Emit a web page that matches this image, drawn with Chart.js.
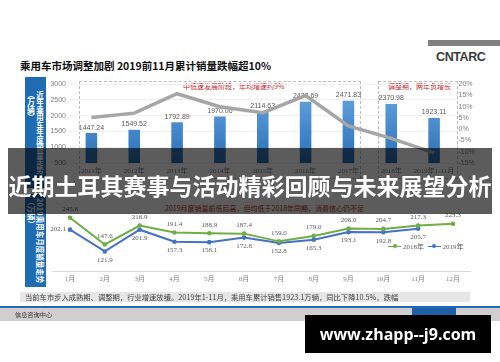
<!DOCTYPE html>
<html><head><meta charset="utf-8">
<script src="https://cdn.jsdelivr.net/npm/chart.js@4.4.1/dist/chart.umd.min.js"></script>
<style>
html,body{margin:0;padding:0;background:#fff;width:500px;height:362px;overflow:hidden;position:relative;font-family:"Noto Sans CJK SC",sans-serif;}
.abs{position:absolute;white-space:nowrap;}
canvas{position:absolute;left:0;top:0;}
.dash{position:absolute;border:1px dashed #bdbdbd;box-sizing:border-box;}
.side{position:absolute;background:#1f6cb3;display:flex;justify-content:center;align-items:center;}
.side div{writing-mode:vertical-rl;color:#fff;font-weight:bold;font-size:7.5px;line-height:9px;white-space:nowrap;}
.red{position:absolute;color:#c0282d;font-size:7px;line-height:9px;white-space:nowrap;}
.leg{position:absolute;font-family:"Liberation Serif","Noto Sans CJK SC",serif;font-size:7px;color:#595959;line-height:9px;white-space:nowrap;}
.leg i{display:inline-block;position:relative;width:13px;height:1.5px;vertical-align:middle;margin-right:2px;top:-1px;}
.leg i b{position:absolute;left:4.5px;top:-1.5px;width:4px;height:4px;border-radius:2px;}
</style></head><body>

<div class="abs" style="left:428px;top:40px;width:72px;height:6px;background:#808080;"></div>
<div class="abs" style="left:20px;top:59px;font-size:10.5px;line-height:14px;font-weight:bold;color:#111;">乘用车市场调整加剧 2019前11月累计销量跌幅超10%</div>
<div class="abs" style="left:436px;top:50px;font-family:'Liberation Sans',sans-serif;font-size:12.5px;line-height:15px;font-weight:bold;color:#3a3a3a;letter-spacing:-0.4px;">CNTARC</div>

<div class="dash" style="left:79px;top:81px;width:282px;height:98px;"></div>
<div class="dash" style="left:378px;top:81px;width:80px;height:98px;"></div>
<div class="red" style="left:183px;top:82px;">中低速发展阶段，年均增速约9%</div>
<div class="red" style="left:388px;top:82px;">调整期，两年负增长</div>

<div class="side" style="left:25px;top:77px;width:21px;height:111px;"><div style="text-orientation:mixed;">近年乘用车年度销量走势<br>（万辆）</div></div>
<div class="side" style="left:25px;top:194px;width:21px;height:93px;"><div style="text-orientation:sideways;">2019乘用车月度销量走势<br>（万辆）</div></div>

<div class="red" style="left:165px;top:203.5px;">2019月度销量前低后高，但均低于2018年同期，消费信心仍不足</div>

<canvas id="top" width="500" height="362"></canvas>
<canvas id="bottom" width="500" height="362"></canvas>

<div class="leg" style="left:388px;top:243px;"><i style="background:#70ad47"><b style="background:#70ad47"></b></i>2018年&nbsp;&nbsp;<i style="background:#4472c4"><b style="background:#4472c4"></b></i>2019年</div>

<div class="abs" style="left:20px;top:292px;width:450px;height:10px;background:#e6e6e6;"></div>
<div class="abs" style="left:25px;top:292px;font-size:7.3px;line-height:10px;color:#404040;">当前车市步入成熟期、调整期，行业增速放缓。2019年1-11月，乘用车累计销售1923.1万辆，同比下降10.5%，跌幅</div>
<div class="abs" style="left:0;top:306px;width:500px;height:2px;background:#1f6cb3;"></div>
<div class="abs" style="left:0;top:308px;width:500px;height:13px;background:#cfcfcf;"></div>
<div class="abs" style="left:15px;top:310px;font-size:6.2px;line-height:9px;color:#333;">信息咨询中心</div>
<div class="abs" style="left:412px;top:308px;width:44px;height:10px;background:#1f5fa8;"></div>

<div class="abs" style="left:8px;top:148px;width:484px;height:66px;background:rgba(0,0,0,0.64);"></div>
<div class="abs" style="left:8px;top:170px;width:484px;text-align:center;font-size:23px;line-height:30px;font-weight:bold;color:#fff;">近期土耳其赛事与活动精彩回顾与未来展望分析</div>

<div class="abs" style="left:305px;top:315px;width:186px;height:38px;background:#000;"></div>
<div class="abs" style="left:305px;top:315px;width:186px;text-align:center;font-family:'Open Sans',sans-serif;font-size:16px;line-height:38px;font-weight:bold;color:#fff;">www.zhapp--j9.com</div>

<script>
const years = ['2011年','2012年','2013年','2014年','2015年','2016年','2017年','2018年','2019年1-11月'];
const annualSales = [1447.24,1549.52,1792.89,1970.06,2114.63,2437.69,2471.83,2370.98,1923.11];
const annualGrowth = [5.2,7.1,15.7,9.9,7.3,14.9,1.4,-4.1,-10.5];
const salesTicks = [500,1000,1500,2000,2500,3000];
const growthTicks = [-15,-10,-5,0,5,10,15,20];

const months = ['1月','2月','3月','4月','5月','6月','7月','8月','9月','10月','11月','12月'];
const sales2018 = [245.6,147.6,216.9,191.4,188.9,187.4,159.0,179.0,206.0,204.7,217.3,223.3];
const sales2019 = [202.1,121.9,201.9,157.3,156.1,172.8,152.8,165.3,193.1,192.8,205.7,null];

const barLabels = {
  id:'barLabels',
  afterDatasetDraw(chart,args){
    if(args.index!==0) return;
    const ctx=chart.ctx; ctx.save();
    ctx.font='7px "Liberation Sans", sans-serif'; ctx.fillStyle='#595959';
    ctx.textAlign='center'; ctx.textBaseline='bottom';
    args.meta.data.forEach((el,i)=>ctx.fillText(annualSales[i].toFixed(2), el.x, el.y-2));
    ctx.restore();
  }
};

new Chart(document.getElementById('top'),{
  data:{
    labels:years,
    datasets:[
      {type:'bar',label:'销量',data:annualSales,yAxisID:'y',order:1,
       barPercentage:0.27,categoryPercentage:1,
       backgroundColor(c){const ca=c.chart.chartArea;if(!ca)return '#4a8fd4';
         const g=c.chart.ctx.createLinearGradient(0,ca.top,0,ca.bottom);
         g.addColorStop(0,'#6aa9e2');g.addColorStop(1,'#2a6fb7');return g;}},
      {type:'line',label:'增速',data:annualGrowth,yAxisID:'y1',order:0,
       borderColor:'#a6a6a6',borderWidth:3.5,pointRadius:0,tension:0,fill:false}
    ]
  },
  options:{
    responsive:false,animation:false,
    layout:{padding:{left:50,right:14.5,top:84,bottom:179}},
    plugins:{legend:{display:false},tooltip:{enabled:false}},
    scales:{
      x:{offset:true,grid:{display:false,drawTicks:false},border:{display:false},
         ticks:{font:{family:'Liberation Serif, Noto Sans CJK SC',size:7},color:'#7f7f7f',padding:4,maxRotation:0,autoSkip:false},
         afterFit(s){s.height=20;}},
      y:{position:'left',min:500,max:3000,
         afterBuildTicks(s){s.ticks=salesTicks.map(v=>({value:v}));},
         grid:{color:'#efefef',drawTicks:false},border:{display:false},
         ticks:{font:{family:'Liberation Sans',size:7},color:'#7f7f7f',padding:4,autoSkip:false,callback:v=>String(v)},
         afterFit(s){s.width=20;}},
      y1:{position:'right',min:-15,max:20,
         afterBuildTicks(s){s.ticks=growthTicks.map(v=>({value:v}));},
         grid:{display:false,drawTicks:false},border:{display:false},
         ticks:{font:{family:'Liberation Sans',size:7},color:'#7f7f7f',padding:3,autoSkip:false,callback:v=>v+'%'},
         afterFit(s){s.width=30;}}
    }
  },
  plugins:[barLabels]
});

const pointLabels = {
  id:'pointLabels',
  afterDatasetsDraw(chart){
    const ctx=chart.ctx; ctx.save();
    ctx.font='7px "Liberation Serif", serif'; ctx.fillStyle='#595959'; ctx.textAlign='center';
    chart.getDatasetMeta(0).data.forEach((el,i)=>{
      ctx.textBaseline='bottom'; ctx.fillText(sales2018[i].toFixed(1),el.x,el.y-5);
    });
    chart.getDatasetMeta(1).data.forEach((el,i)=>{
      if(sales2019[i]==null) return;
      if(i===0){ctx.textAlign='right';ctx.textBaseline='middle';ctx.fillText(sales2019[i].toFixed(1),el.x-4,el.y);ctx.textAlign='center';return;}
      ctx.textBaseline='top'; ctx.fillText(sales2019[i].toFixed(1),el.x,el.y+5);
    });
    ctx.restore();
  }
};

new Chart(document.getElementById('bottom'),{
  type:'line',
  data:{
    labels:months,
    datasets:[
      {label:'2018年',data:sales2018,borderColor:'#70ad47',backgroundColor:'#70ad47',borderWidth:2,pointRadius:2.3,pointBorderWidth:0,tension:0},
      {label:'2019年',data:sales2019,borderColor:'#4472c4',backgroundColor:'#4472c4',borderWidth:2,pointRadius:2.3,pointBorderWidth:0,tension:0}
    ]
  },
  options:{
    responsive:false,animation:false,
    layout:{padding:{left:52.6,right:29.6,top:203,bottom:75}},
    plugins:{legend:{display:false},tooltip:{enabled:false}},
    scales:{
      x:{offset:true,grid:{display:false,drawTicks:false},border:{display:true,color:'#d9d9d9'},
         ticks:{font:{family:'Liberation Serif, Noto Sans CJK SC',size:7},color:'#7f7f7f',padding:4,maxRotation:0,autoSkip:false},
         afterFit(s){s.height=16;}},
      y:{display:false,min:50,max:300}
    }
  },
  plugins:[pointLabels]
});
</script>
</body></html>
